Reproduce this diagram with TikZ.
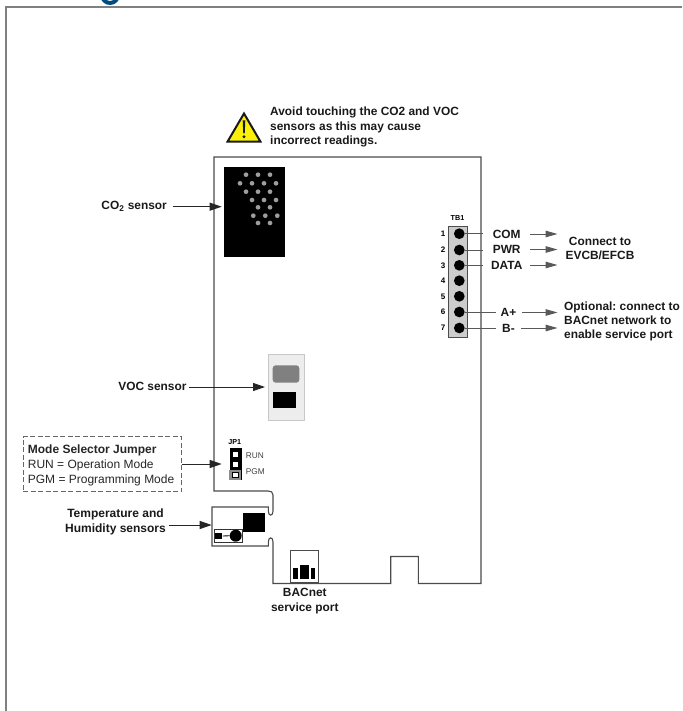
\documentclass[tikz,border=0pt]{standalone}
\usepackage{fontspec}
\setmainfont{Liberation Sans}
\usetikzlibrary{arrows.meta}
\definecolor{framegray}{RGB}{128,128,128}
\definecolor{boardline}{RGB}{75,75,75}
\definecolor{pinfill}{RGB}{204,204,204}
\definecolor{titleblue}{RGB}{0,76,129}
\definecolor{warnyellow}{RGB}{250,240,10}
\tikzset{
  boldlabel/.style={font=\fontsize{11.9}{14}\selectfont\bfseries\frenchspacing,inner sep=0pt,align=center,text=black!90},
  pinnum/.style={font=\fontsize{8}{9}\selectfont\bfseries,inner sep=0pt},
  tinyhead/.style={font=\fontsize{7.2}{8}\selectfont\bfseries,inner sep=0pt},
  smalllabel/.style={font=\fontsize{8.3}{9}\selectfont,inner sep=0pt,text=black!75},
  pin/.style={circle,fill=black,inner sep=0pt,minimum size=10.7pt},
  dot/.style={circle,fill=black!38,inner sep=0pt,minimum size=4.7pt},
  pointer/.style={draw=black!85,line width=1pt,-{Triangle[length=12pt,width=8pt]}},
  graypointer/.style={draw=black!65,line width=1pt,-{Triangle[length=12pt,width=6.5pt]}},
  wire/.style={draw=black!65,line width=1pt},
  board/.style={draw=boardline,line width=1.1pt}
}
\begin{document}
\begin{tikzpicture}[x=1pt,y=-1pt]
\useasboundingbox (0,0) rectangle (682,711);
% title fragment
\begin{scope}
\clip (0,0) rectangle (682,6);
\draw[titleblue,line width=4pt] (110,-5) circle (8);
\end{scope}
% outer frame
\draw[framegray,line width=2pt] (682,7) -- (6,7) -- (6,711);
% board
\draw[board,fill=white] (214,157) -- (481,157) -- (481,583.5) -- (418.3,583.5) -- (418.3,556.5) -- (390.7,556.5) -- (390.7,583.5) -- (273,583.5) -- (273,542)
  .. controls (273,536.5) and (268.3,536.5) .. (268.3,542) -- (268.3,546) -- (212,546) -- (212,507) -- (268.3,507) -- (268.3,511)
  .. controls (268.3,516.5) and (273,516.5) .. (273,511) -- (273,495) .. controls (273,492) and (271,491) .. (268,491) -- (214,491) -- cycle;
% warning
\path[draw=black!90,fill=warnyellow,line width=2pt,line join=miter] (227.5,141.7) -- (260.5,141.7) -- (244,113.5) -- cycle;
\fill[black!90] (242.7,120.5) -- (245.3,120.5) -- (244.7,133.5) -- (243.3,133.5) -- cycle;
\fill[black!90] (244,136.7) circle (1.6);
\node[boldlabel,align=left,anchor=west,font=\fontsize{11.9}{14.6}\selectfont\bfseries\frenchspacing] (warntext) at (270,127.3) {Avoid touching the CO2 and VOC\\sensors as this may cause\\incorrect readings.};
% CO2 sensor
\node[fill=black,inner sep=0pt,minimum width=61pt,minimum height=89pt,anchor=north west] (co2) at (224,167.3) {};
\foreach \x/\y in {246/174.7,258/174.7,270/174.7,240/183.3,252/183.3,264/183.3,276/183.3,246/191.7,258/191.7,270/191.7,252/200,264/200,276/200,258/207.3,270/207.3,253.3/215.7,265.3/215.7,277.3/215.7,258/223,270/223}
  \node[dot] at (\x,\y) {};
\node[boldlabel,anchor=east] (co2l) at (167,206) {CO\textsubscript{2} sensor};
\coordinate (co2start) at (172.7,206.7);
\coordinate (co2tip) at (221.7,206.7);
\draw[pointer] (co2start) -- (co2tip);
% VOC
\node[fill=black!7,draw=black!22,line width=0.6pt,inner sep=0pt,minimum width=35.7pt,minimum height=66pt,anchor=north west] (voc) at (268.3,354) {};
\node[fill=black!50,rounded corners=3pt,inner sep=0pt,minimum width=26.6pt,minimum height=17.4pt] (vocA) at (286,374) {};
\node[fill=black,inner sep=0pt,minimum width=22.7pt,minimum height=16pt] (vocB) at (284.7,400.3) {};
\node[boldlabel,anchor=east] (vocl) at (186.7,386.5) {VOC sensor};
\coordinate (vocstart) at (189,387);
\coordinate (voctip) at (265,387);
\draw[pointer] (vocstart) -- (voctip);
% Jumper
\node[draw=black!60,dash pattern=on 5pt off 2.5pt,line width=1pt,minimum width=158.5pt,minimum height=55pt,anchor=north west,inner sep=0pt] (modebox) at (22.7,436) {};
\node[anchor=west,inner sep=0pt,align=left,font=\fontsize{12}{15}\selectfont,text=black!85] (modetext) at (27.7,465) {\textbf{Mode Selector Jumper}\\RUN = Operation Mode\\PGM = Programming Mode};
\coordinate (jtip) at (221.7,464);
\draw[pointer] (modebox.east |- jtip) -- (jtip);
\node[tinyhead] (jp1) at (234.7,441.7) {JP1};
\node[fill=black,inner sep=0pt,minimum width=12pt,minimum height=32pt,anchor=north west] (jblock) at (229.3,448.2) {};
\node[fill=white,inner sep=0pt,minimum size=5pt] (j1) at (235.3,454.3) {};
\node[fill=white,inner sep=0pt,minimum size=5pt] (j2) at (235.3,464.3) {};
\node[fill=black!45,inner sep=0pt,minimum width=12pt,minimum height=9.5pt] (j3) at (235.3,475) {};
\node[fill=white,draw=black,line width=0.7pt,inner sep=0pt,minimum size=5.5pt] (j3b) at (235.5,475) {};
\node[smalllabel,anchor=west] (run) at (245.7,456) {RUN};
\node[smalllabel,anchor=west] (pgm) at (245.7,472) {PGM};
% Temp humidity
\node[fill=black,inner sep=0pt,minimum width=22pt,minimum height=19.7pt,anchor=north west] (th1) at (242.7,512.3) {};
\node[draw=black!80,line width=0.7pt,fill=white,inner sep=0pt,minimum width=28.3pt,minimum height=12.4pt,anchor=north west] (th2) at (214,529.3) {};
\node[fill=black,inner sep=0pt,minimum width=7.3pt,minimum height=5.4pt] (th3) at (218.7,536) {};
\node[circle,fill=black,inner sep=0pt,minimum size=12pt] (th4) at (235.7,535.7) {};
\draw[black,line width=0.8pt] (th3) -- (th4);
\node[boldlabel,font=\fontsize{12}{15}\selectfont\bfseries] (thl) at (115.5,521.5) {Temperature and\\Humidity sensors};
\coordinate (thstart) at (169.3,525);
\coordinate (thtip) at (211.7,525);
\draw[pointer] (thstart) -- (thtip);
% BACnet port
\node[draw=boardline,line width=1.1pt,fill=white,inner sep=0pt,minimum width=28.3pt,minimum height=32.5pt,anchor=south west] (port) at (290,583.5) {};
\node[fill=black,inner sep=0pt,minimum width=4.4pt,minimum height=11.6pt,anchor=south] (b1) at (295.5,579.3) {};
\node[fill=black,inner sep=0pt,minimum width=9pt,minimum height=14.6pt,anchor=south] (b2) at (304.5,579.3) {};
\node[fill=black,inner sep=0pt,minimum width=4pt,minimum height=11.6pt,anchor=south] (b3) at (313,579.3) {};
\node[boldlabel,font=\fontsize{11.9}{14.3}\selectfont\bfseries] (bacl) at (304.8,601.2) {BACnet\\service port};
% TB1
\node[draw=black!70,fill=pinfill,line width=1pt,inner sep=0pt,minimum width=19pt,minimum height=111.3pt,anchor=north west] (tb) at (448.3,226) {};
\node[tinyhead] (tbl) at (457.5,218) {TB1};
\foreach \n/\y in {1/233.7,2/250,3/265.3,4/280.7,5/296.3,6/312,7/328}{
  \node[pin] (p\n) at (459.3,\y) {};
  \node[pinnum] (n\n) at (443,\y) {\n};
}
\node[boldlabel] (com) at (506.7,234) {COM};
\node[boldlabel] (pwr) at (506.7,249.5) {PWR};
\node[boldlabel] (data) at (506.7,265) {DATA};
\node[boldlabel] (ap) at (508.5,312.5) {A+};
\node[boldlabel] (bm) at (508.5,328) {B-};
\coordinate (w1) at (483,233.7); \coordinate (w2) at (483,250); \coordinate (w3) at (483,265.3);
\coordinate (w6) at (496,312); \coordinate (w7) at (496,328);
\draw[wire] (p1) -- (w1);
\draw[wire] (p2) -- (w2);
\draw[wire] (p3) -- (w3);
\draw[wire] (p6) -- (w6);
\draw[wire] (p7) -- (w7);
\coordinate (s1) at (530,234); \coordinate (s2) at (530,249.5); \coordinate (s3) at (530,265); \coordinate (s6) at (522,312.5); \coordinate (s7) at (521,328);
\coordinate (c1) at (557.5,234); \coordinate (c2) at (557.5,249.5); \coordinate (c3) at (557.5,265); \coordinate (c6) at (557.5,312.5); \coordinate (c7) at (557.5,328);
\draw[graypointer] (s1) -- (c1);
\draw[graypointer] (s2) -- (c2);
\draw[graypointer] (s3) -- (c3);
\draw[graypointer] (s6) -- (c6);
\draw[graypointer] (s7) -- (c7);
\node[boldlabel] (evcb) at (600,248) {Connect to\\EVCB/EFCB};
\node[boldlabel,align=left,anchor=west,font=\fontsize{11.9}{13.7}\selectfont\bfseries\frenchspacing] (opt) at (564,321.3) {Optional: connect to\\BACnet network to\\enable service port};
\end{tikzpicture}
\end{document}
